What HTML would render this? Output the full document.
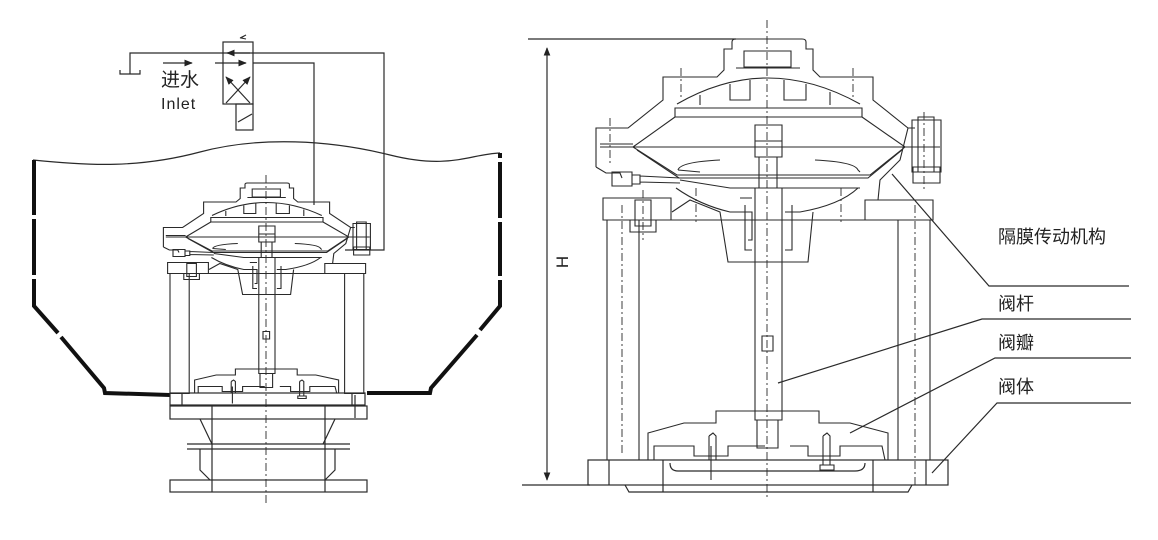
<!DOCTYPE html>
<html><head><meta charset="utf-8"><style>
html,body{margin:0;padding:0;background:#fff;}
svg{display:block}
text{font-family:"Liberation Sans","Noto Sans CJK SC",sans-serif;fill:#222}
</style></head><body>
<svg width="1158" height="540" viewBox="0 0 1158 540" xmlns="http://www.w3.org/2000/svg">
<defs>
<marker id="ah" viewBox="0 0 10 10" refX="9" refY="5" markerWidth="7" markerHeight="7" orient="auto-start-reverse"><path d="M0,1 L10,5 L0,9 z" fill="#222"/></marker>
<g id="mech" fill="none" stroke="#2a2a2a" stroke-width="1.1">
  <path vector-effect="non-scaling-stroke" d="M596,167 L596,128 L628,128 L663,100 L663,77 L717,77 L724,70 L724,49 L732,49 L732,42 Q732,39 736,39 L802,39 Q806,39 806,42 L806,49 L813,49 L813,70 L820,77 L873,77 L873,100 L908,128 L915,128"/>
  <rect vector-effect="non-scaling-stroke" x="744" y="51" width="47" height="16"/>
  <line vector-effect="non-scaling-stroke" x1="736" y1="68" x2="800" y2="68"/>
  <path vector-effect="non-scaling-stroke" d="M677,104 Q767,52 860,104"/>
  <rect vector-effect="non-scaling-stroke" x="675" y="108" width="187" height="9"/>
  <path vector-effect="non-scaling-stroke" d="M730,84 L730,100 L750,100 L750,80 M784,80 L784,100 L806,100 L806,84 M700,95 L700,105 M830,92 L830,105"/>
  <path vector-effect="non-scaling-stroke" d="M633,147 L675,117 M862,117 L905,147 L940,147 M600,147 L905,147 M600,144 L633,144"/>
  <path vector-effect="non-scaling-stroke" d="M633,147 L677,175 L870,175 L905,147"/>
  <path vector-effect="non-scaling-stroke" d="M637,150 L679,178 L868,178 L902,150"/>
  <path vector-effect="non-scaling-stroke" d="M678,170 Q680,162 720,160 M815,160 Q855,162 858,170 L860,172 M678,170 L700,172"/>
  <path vector-effect="non-scaling-stroke" d="M596,167 L606,173 L620,173 L622,178 M680,180 L730,188 L860,188"/>
  <path vector-effect="non-scaling-stroke" d="M676,188 Q700,205 730,212 L750,212 M785,212 L800,212 Q840,205 858,188"/>
  <path vector-effect="non-scaling-stroke" d="M908,128 L900,160 L880,180 L878,200"/>
  <path vector-effect="non-scaling-stroke" d="M672,212 L690,200 L720,212 L728,262 L808,262 L813,212"/>
  <rect vector-effect="non-scaling-stroke" x="912" y="120" width="29" height="52"/>
  <rect vector-effect="non-scaling-stroke" x="918" y="117" width="16" height="55"/>
  <rect vector-effect="non-scaling-stroke" x="913" y="167" width="27" height="16"/>
  <rect vector-effect="non-scaling-stroke" x="612" y="172" width="20" height="14"/>
  <path vector-effect="non-scaling-stroke" d="M632,175 L640,175 L640,184 L632,184 M640,176 L680,178 M640,182 L680,183"/>
  <rect vector-effect="non-scaling-stroke" x="603" y="198" width="68" height="22"/>
  <rect vector-effect="non-scaling-stroke" x="635" y="200" width="16" height="26"/>
  <rect vector-effect="non-scaling-stroke" x="630" y="220" width="26" height="12"/>
  <rect vector-effect="non-scaling-stroke" x="865" y="200" width="68" height="20"/>
  <rect vector-effect="non-scaling-stroke" x="607" y="220" width="32" height="240"/>
  <rect vector-effect="non-scaling-stroke" x="898" y="220" width="32" height="240"/>
  <line vector-effect="non-scaling-stroke" x1="671" y1="220" x2="865" y2="220"/>
  <rect vector-effect="non-scaling-stroke" x="755" y="125" width="27" height="32"/>
  <line vector-effect="non-scaling-stroke" x1="755" y1="141" x2="782" y2="141"/>
  <rect vector-effect="non-scaling-stroke" x="759" y="157" width="18" height="31"/>
  <rect vector-effect="non-scaling-stroke" x="755" y="188" width="27" height="232"/>
  <rect vector-effect="non-scaling-stroke" x="762" y="336" width="11" height="15"/>
  <path vector-effect="non-scaling-stroke" d="M745,205 L745,250 L752,250 M792,205 L792,250 L785,250 M740,198 L752,198 M748,212 L752,212 L752,240 L748,240"/>
  <path vector-effect="non-scaling-stroke" d="M648,460 L648,433 L684,423 L716,423 L716,411 L819,411 L819,423 L850,423 L888,433 L888,460"/>
  <path vector-effect="non-scaling-stroke" d="M654,460 L654,446 L694,446 L694,456 L728,456 L728,446 L765,446 M790,446 L808,446 L808,456 L840,456 L840,446 L882,446 L885,460"/>
  <rect vector-effect="non-scaling-stroke" x="757" y="420" width="21" height="28"/>
  <path vector-effect="non-scaling-stroke" d="M709,436 L713,433 L716,436 L716,460 M709,436 L709,460 M711,446 L711,480 M823,436 L827,433 L830,436 L830,465 L823,465 L823,436 M820,465 L834,465 L834,470 L820,470 z"/>
</g>
</defs>

<g fill="none" stroke="#2a2a2a" stroke-width="1.2">
  <polyline points="130,74 130,53 384,53 384,250 345,250"/>
  <polyline points="253,63 314,63 314,205"/>
  <polyline points="120,70 120,74 140,74 140,70"/>
  <rect x="223" y="42" width="30" height="62"/>
  <rect x="236" y="104" width="17" height="26"/>
  <line x1="238" y1="122" x2="252" y2="114"/>
  <line x1="226" y1="103" x2="250" y2="77" marker-end="url(#ah)"/>
  <line x1="250" y1="103" x2="226" y2="77" marker-end="url(#ah)"/>
  <line x1="250" y1="53" x2="227" y2="53" marker-end="url(#ah)"/>
  <line x1="215" y1="63" x2="246" y2="63" marker-end="url(#ah)"/>
  <line x1="163" y1="63" x2="192" y2="63" marker-end="url(#ah)"/>
  <path d="M240,38 L246,35 L241,38 L246,39" stroke-width="1"/>
  <path d="M33,160 C90,166 140,168 200,152 S330,140 390,155 S470,154 500,153"/>
</g>
<g fill="none" stroke="#111" stroke-width="4">
  <path d="M34,160 L34,215 M34,219 L34,275 M34,279 L34,306 L58,333 M61,337 L104,388 L105,393 L170,395"/>
  <path d="M500,153 L500,158 M500,162 L500,218 M500,222 L500,276 M500,280 L500,306 L480,330 M477,335 L431,388 L430,393 L367,393"/>
</g>
<text x="161" y="86" font-size="19">进水</text>
<text x="161" y="109" font-size="16" letter-spacing="1">Inlet</text>

<use href="#mech" transform="translate(266,183) scale(0.6,0.5) translate(-767,-39)"/>
<g fill="none" stroke="#2a2a2a" stroke-width="1.2">
  <rect x="170" y="393" width="195" height="12"/>
  <line x1="182" y1="393" x2="182" y2="405"/><line x1="352" y1="393" x2="352" y2="405"/>
  <rect x="170" y="406" width="197" height="13"/>
  <path d="M200,419 L210,440 L212,444 M335,419 L325,440 L323,444"/>
  <line x1="187" y1="444" x2="350" y2="444"/><line x1="187" y1="449" x2="350" y2="449"/>
  <path d="M200,449 L200,470 L210,480 M335,449 L335,470 L325,480"/>
  <rect x="170" y="480" width="197" height="12"/>
  <line x1="212" y1="405" x2="212" y2="492"/><line x1="325" y1="405" x2="325" y2="492"/>
  <line x1="355" y1="395" x2="355" y2="418"/>
  <line x1="266" y1="175" x2="266" y2="505" stroke-dasharray="8,3,2,3" stroke-width="0.9"/>
</g>

<use href="#mech"/>
<g fill="none" stroke="#2a2a2a" stroke-width="1.2">
  <rect x="588" y="460" width="360" height="25"/>
  <line x1="609" y1="460" x2="609" y2="485"/><line x1="663" y1="460" x2="663" y2="492"/>
  <line x1="873" y1="460" x2="873" y2="492"/><line x1="926" y1="460" x2="926" y2="485"/>
  <path d="M625,485 L629,492 L908,492 L912,485"/>
  <path d="M670,463 Q670,471 678,471 L855,471 Q865,471 865,463"/>
  <line x1="528" y1="39" x2="736" y2="39"/>
  <line x1="522" y1="485" x2="590" y2="485"/>
  <line x1="547" y1="48" x2="547" y2="480" marker-start="url(#ah)" marker-end="url(#ah)"/>
  <g stroke-dasharray="8,3,2,3" stroke-width="0.9">
    <line x1="767" y1="20" x2="767" y2="500"/>
    <line x1="622" y1="205" x2="622" y2="455"/>
    <line x1="915" y1="205" x2="915" y2="485"/>
    <line x1="681" y1="68" x2="681" y2="100"/><line x1="853" y1="68" x2="853" y2="100"/>
    <line x1="610" y1="118" x2="610" y2="165"/><line x1="924" y1="112" x2="924" y2="190"/>
    <line x1="643" y1="190" x2="643" y2="240"/><line x1="696" y1="188" x2="696" y2="222"/><line x1="841" y1="188" x2="841" y2="222"/>
  </g>
  <polyline points="1129,286 989,286 892,174"/>
  <polyline points="1131,319 982,319 778,383"/>
  <polyline points="1131,358 995,358 850,433"/>
  <polyline points="1131,403 997,403 932,473"/>
</g>
<text x="0" y="0" font-size="17" transform="translate(568,262) rotate(-90)" text-anchor="middle">H</text>
<text x="998" y="243" font-size="18">隔膜传动机构</text>
<text x="998" y="310" font-size="18">阀杆</text>
<text x="998" y="349" font-size="18">阀瓣</text>
<text x="998" y="393" font-size="18">阀体</text>
</svg>
</body></html>
